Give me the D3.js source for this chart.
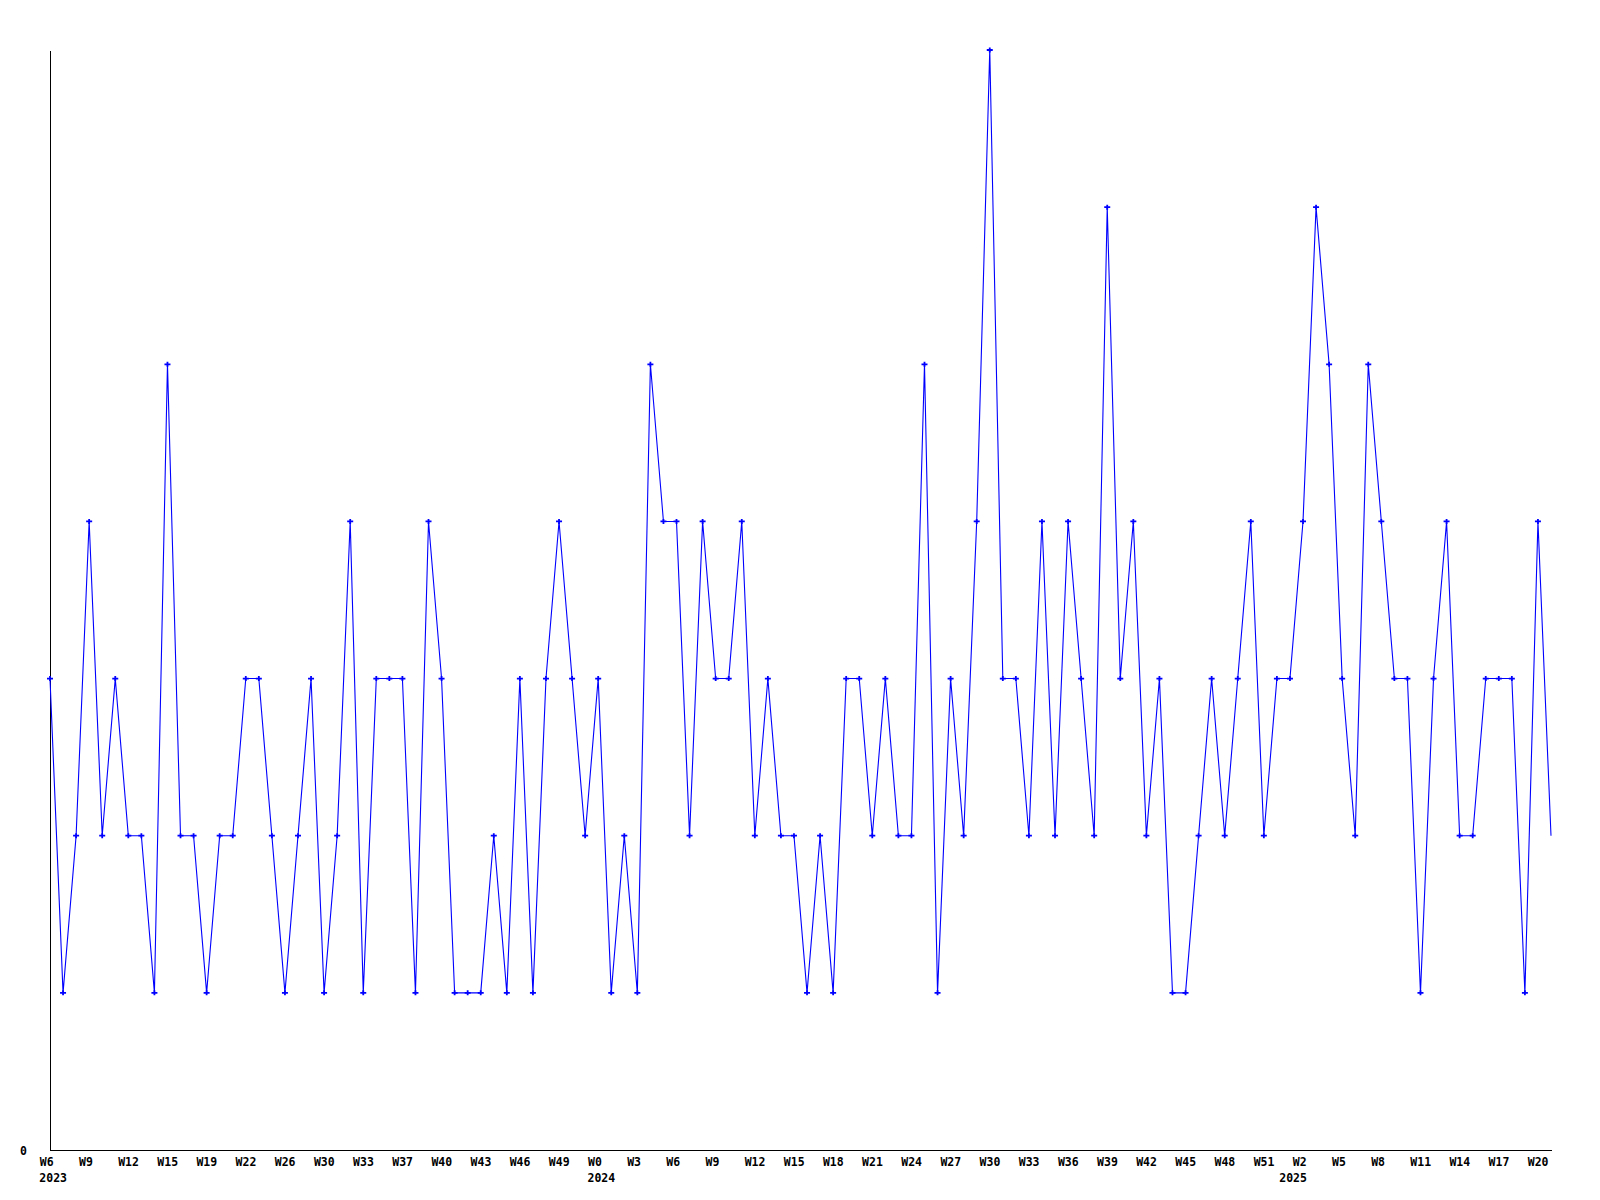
<!DOCTYPE html>
<html>
<head>
<meta charset="utf-8">
<script src="https://cdn.jsdelivr.net/npm/d3@7"></script>
<style>
  html, body { margin: 0; padding: 0; background: #fff; }
  svg { display: block; }
  text { font-family: "DejaVu Sans Mono", "Liberation Mono", monospace; font-weight: bold; font-size: 11.5px; fill: #000; }
</style>
</head>
<body>
<svg id="chart" width="1600" height="1200"></svg>
<script>
// Weekly counts, one point per week (2023 W6 .. 2025 W21)
const values = [
  3,1,2,4,2,3,2,2,1,5,2,2,1,2,2,3,3,2,1,2,3,1,2,4,
  1,3,3,3,1,4,3,1,1,1,2,1,3,1,3,4,3,2,3,1,2,1,5,
  4,4,2,4,3,3,4,2,3,2,2,1,2,1,3,3,2,3,2,2,5,1,3,
  2,4,7,3,3,2,4,2,4,3,2,6,3,4,2,3,1,1,2,3,2,3,4,2,
  3,3,4,6,5,3,2,5,4,3,3,1,3,4,2,2,3,3,3,1,4,2
];
// Week tick labels, one every 3 points
const weekLabels = [
  "W6","W9","W12","W15","W19","W22","W26","W30","W33","W37","W40","W43","W46","W49",
  "W0","W3","W6","W9","W12","W15","W18","W21","W24","W27","W30","W33","W36","W39",
  "W42","W45","W48","W51","W2","W5","W8","W11","W14","W17","W20"
];
const weekLabelStep = 3;
// Year labels and the point index where each year starts
const yearLabels = ["2023","2024","2025"];
const yearIndex = [0, 42, 95];
const yTickValues = [0];
const yMax = 7;

const svg = d3.select("#chart");
const x = d3.scaleLinear().domain([0, values.length - 1]).range([50, 1551]);
const y = d3.scaleLinear().domain([0, yMax]).range([1150, 50]);

// X axis
const tickIdx = weekLabels.map((_, i) => i * weekLabelStep);
const xAxis = d3.axisBottom(x)
  .tickValues(tickIdx)
  .tickFormat((d, i) => weekLabels[i])
  .tickSize(0)
  .tickSizeOuter(0)
  .tickPadding(0);
const gx = svg.append("g").attr("transform", "translate(0,1150)").call(xAxis);
gx.select(".domain").attr("stroke", "#000").attr("stroke-width", 1).attr("shape-rendering", "crispEdges");
gx.selectAll(".tick text")
  .attr("text-anchor", "start")
  .attr("x", -10.7)
  .attr("y", 16)
  .attr("dy", null)
  .attr("fill", "#000")
  .attr("font-family", null).attr("font-size", null);

// Year labels
svg.append("g").selectAll("text")
  .data(yearLabels)
  .join("text")
  .attr("x", (d, i) => x(yearIndex[i]) - 10.7)
  .attr("y", 1181.5)
  .text(d => d);

// Y axis
const yAxis = d3.axisLeft(y).tickValues(yTickValues).tickFormat(d3.format("d")).tickSize(0).tickSizeOuter(0).tickPadding(0);
const gy = svg.append("g").attr("transform", "translate(50,0)").call(yAxis);
gy.select(".domain").attr("stroke", "#000").attr("stroke-width", 1.3).attr("shape-rendering", "crispEdges");
gy.selectAll(".tick text")
  .attr("x", -23)
  .attr("dy", null)
  .attr("y", 4)
  .attr("fill", "#000")
  .attr("font-family", null).attr("font-size", null);

// Line
const line = d3.line().x((d, i) => x(i)).y(d => y(d));
svg.append("path")
  .datum(values)
  .attr("d", line)
  .attr("fill", "none")
  .attr("stroke", "#0000ff")
  .attr("stroke-width", 1.1);

// Markers (last, partial week has none)
svg.append("g").selectAll("path")
  .data(values.slice(0, values.length - 1))
  .join("path")
  .attr("transform", (d, i) => `translate(${x(i)},${y(d)})`)
  .attr("d", "M-3,0H3M0,-2.5V2.5")
  .attr("fill", "none")
  .attr("stroke", "#0000ff")
  .attr("stroke-width", 1.8);
</script>
</body>
</html>
